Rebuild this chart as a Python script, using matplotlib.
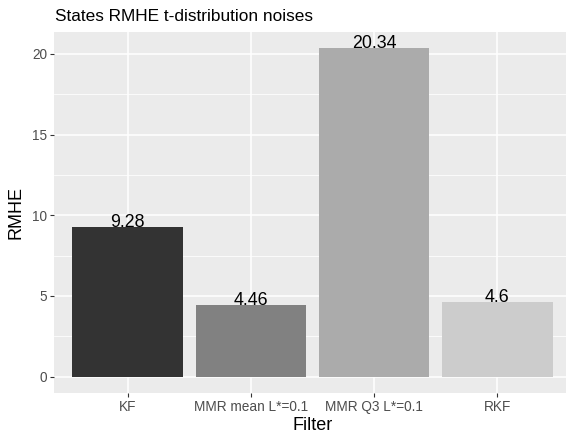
import matplotlib
matplotlib.use("Agg")
import matplotlib.pyplot as plt
from matplotlib.ticker import MultipleLocator

categories = ["KF", "MMR mean L*=0.1", "MMR Q3 L*=0.1", "RKF"]
values = [9.28, 4.46, 20.34, 4.6]
labels = ["9.28", "4.46", "20.34", "4.6"]
colors = ["#333333", "#818181", "#ABABAB", "#CCCCCC"]

plt.rcParams['font.family'] = ['Liberation Sans', 'DejaVu Sans']

fig = plt.figure(figsize=(5.66, 4.40), dpi=100)
ax = fig.add_axes([54/566, 1-393/440, (571-54)/566, (393-32)/440])
ax.set_facecolor("#EBEBEB")
for s in ax.spines.values():
    s.set_visible(False)

x = list(range(len(categories)))
ax.bar(x, values, width=0.9, color=colors, zorder=3)
for xi, v, lab in zip(x, values, labels):
    ax.text(xi, v, lab, ha='center', va='baseline', fontsize=12.8, color='black', zorder=4)

ymax = max(values)
ax.set_ylim(-0.05*ymax, ymax*1.05)
ax.set_xlim(-0.6, len(categories)-0.4)
ax.yaxis.set_major_locator(MultipleLocator(5))
ax.yaxis.set_minor_locator(MultipleLocator(2.5))
ax.set_xticks(x)
ax.set_xticklabels(categories)
ax.grid(which='major', color='white', linewidth=1.1, zorder=0)
ax.grid(which='minor', axis='y', color='white', linewidth=0.55, zorder=0)
ax.set_axisbelow(True)
ax.tick_params(which='major', length=3, width=0.8, color='#333333', labelcolor='#4D4D4D', labelsize=9.8, pad=2)
ax.tick_params(which='minor', length=0)

ax.set_xlabel("Filter", fontsize=13, color='black', labelpad=2)
ax.set_ylabel("RMHE", fontsize=13, color='black', labelpad=5)
fig.text(55/566, 1-21/440, "States RMHE t-distribution noises", fontsize=12.4, ha='left', va='baseline')

fig.savefig("out.png", dpi=100)
